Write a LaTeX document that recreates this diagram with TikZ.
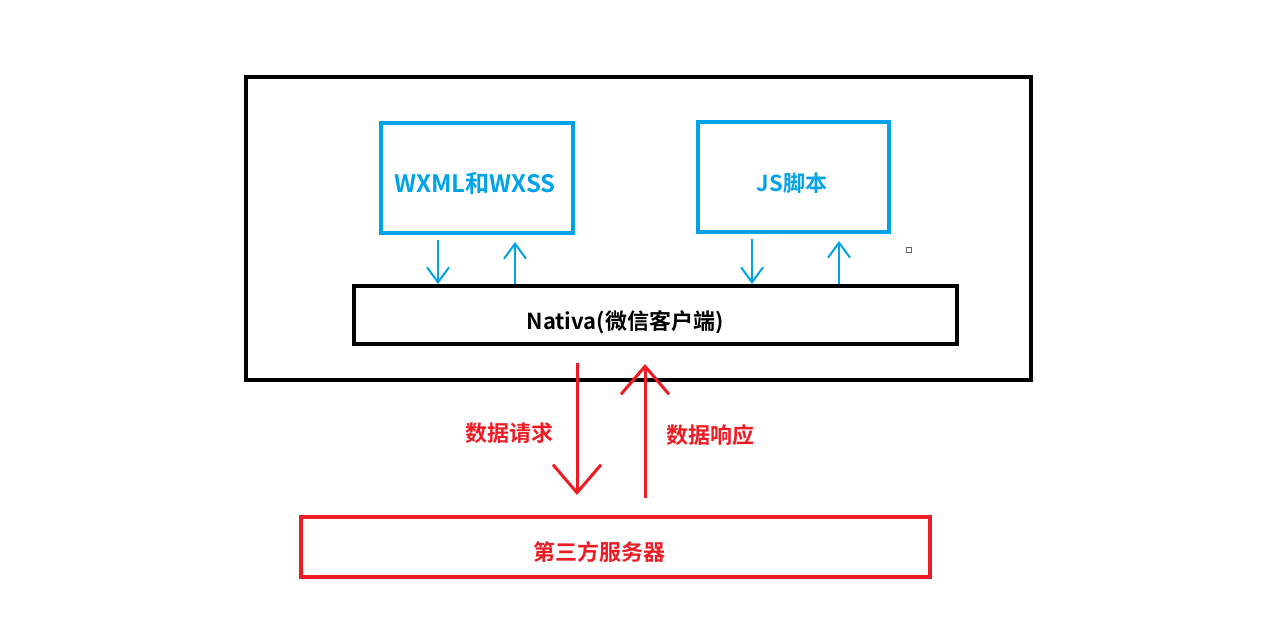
\documentclass[tikz,border=0pt]{standalone}
\usepackage{fontspec}
\setmainfont{Noto Sans CJK SC}[BoldFont={Noto Sans CJK SC Bold}]
\usepackage{tikz}
\usetikzlibrary{calc,arrows.meta}
\definecolor{wxblue}{HTML}{00A2E8}
\definecolor{wxred}{HTML}{ED1C24}
\tikzstyle{outerbox} = [draw=black, line width=2pt, inner sep=0pt, rectangle]
\tikzstyle{bluebox} = [draw=wxblue, line width=2pt, inner sep=0pt, rectangle]
\tikzstyle{redbox} = [draw=wxred, line width=2pt, inner sep=0pt, rectangle]
\tikzstyle{boxtext} = [inner sep=0pt, font=\bfseries\fontsize{11pt}{13pt}\selectfont]
\tikzstyle{bluearrow} = [wxblue, line width=1pt, -{Straight Barb[length=7.5pt, width=11pt]}]
\tikzstyle{redarrow} = [wxred, line width=1.5pt, -{Straight Barb[length=14pt, width=24pt]}]

\begin{document}
\begin{tikzpicture}[x=0.5pt, y=-0.5pt]

\useasboundingbox[fill=white] (0,0) rectangle (1288,636);

\node[outerbox, minimum width=392.5pt, minimum height=151.5pt] (client) at (638.5,228.5) {};
\node[bluebox, minimum width=96pt, minimum height=55pt] (wxml) at (477,178) {};
\node[boxtext, text=wxblue, font=\bfseries\fontsize{12pt}{14pt}\selectfont] (wxmltext) at (475,183) {WXML和WXSS};
\node[bluebox, minimum width=95.5pt, minimum height=55pt] (js) at (793.5,177) {};
\node[boxtext, text=wxblue] (jstext) at (792,183) {JS脚本};
\node[outerbox, minimum width=301.5pt, minimum height=29pt] (nativa) at (655.5,315) {};
\node[boxtext, text=black] (nativatext) at (625,322) {Nativa(微信客户端)};
\node[redbox, minimum width=314.5pt, minimum height=30pt] (server) at (615.5,547) {};
\node[boxtext, text=wxred] (servertext) at (599,552) {第三方服务器};

% small marker right of the JS box
\draw[black!60, line width=0.6pt] (906.5,247.5) rectangle (911.5,252.5);

% page <-> native
\coordinate (wxmldown) at ([xshift=-19.5pt, yshift=-2.5pt]wxml.south);
\coordinate (wxmlup) at ([xshift=19pt, yshift=-3.5pt]wxml.south);
\coordinate (jsdown) at ([xshift=-20.75pt, yshift=-2.5pt]js.south);
\coordinate (jsup) at ([xshift=22.75pt, yshift=-3.5pt]js.south);

\draw[bluearrow] (wxmldown) to (wxmldown |- nativa.north);
\draw[bluearrow] (wxmlup |- nativa.north) to (wxmlup);
\draw[bluearrow] (jsdown) to (jsdown |- nativa.north);
\draw[bluearrow] (jsup |- nativa.north) to (jsup);

% native <-> server
\coordinate (reqtop) at ([xshift=-39.25pt, yshift=-8.5pt]nativa.south);
\coordinate (reqend) at ($(reqtop |- server.north)+(0,-20)$);
\coordinate (resstart) at ($(reqtop |- server.north)+(68,-17)$);
\coordinate (restop) at ([xshift=-5.25pt, yshift=-9pt]nativa.south);

\draw[redarrow] (reqtop) to node[boxtext, text=wxred, left=11pt, yshift=-2pt] (request) {数据请求} (reqend);
\draw[redarrow] (resstart) to node[boxtext, text=wxred, right=10pt, yshift=-2pt] (response) {数据响应} (resstart |- restop);

\end{tikzpicture}
\end{document}
